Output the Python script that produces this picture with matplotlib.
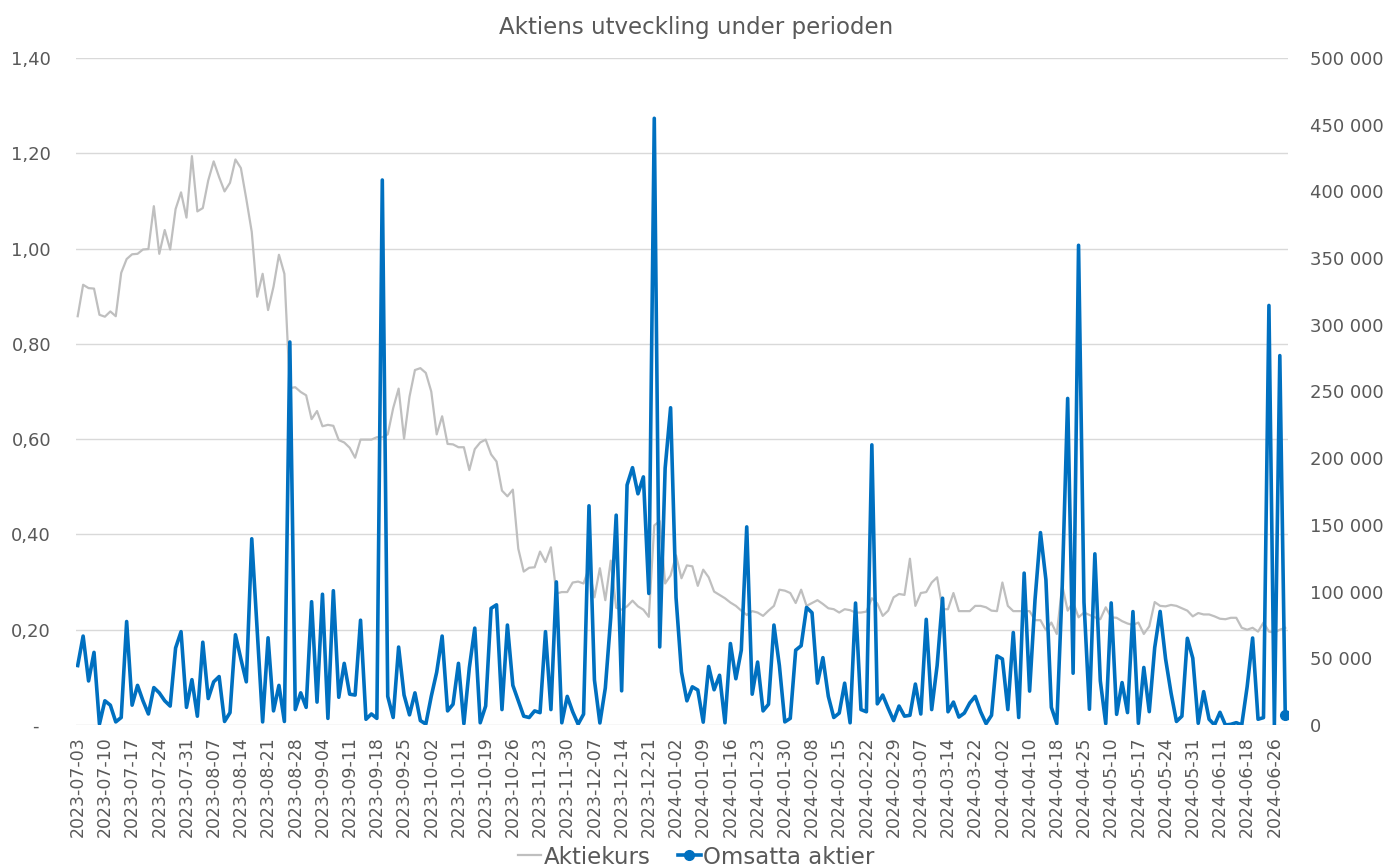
import matplotlib.pyplot as plt
from matplotlib.ticker import FuncFormatter, MultipleLocator
from matplotlib.lines import Line2D

# Aktiekurs (SEK), en punkt per handelsdag
aktiekurs = [
    0.858, 0.924, 0.917, 0.916, 0.861, 0.857, 0.868, 0.858, 0.949, 0.978,
    0.988, 0.989, 0.998, 0.999, 1.089, 0.989, 1.039, 0.998, 1.083, 1.118,
    1.065, 1.194, 1.078, 1.085, 1.143, 1.183, 1.150, 1.120, 1.138, 1.187,
    1.169, 1.104, 1.035, 0.899, 0.947, 0.871, 0.920, 0.987, 0.947, 0.707,
    0.709, 0.699, 0.692, 0.642, 0.659, 0.627, 0.630, 0.628, 0.598, 0.593,
    0.582, 0.561, 0.599, 0.599, 0.599, 0.604, 0.604, 0.610, 0.665, 0.706,
    0.601, 0.689, 0.745, 0.749, 0.739, 0.700, 0.610, 0.648, 0.590, 0.589,
    0.583, 0.583, 0.535, 0.579, 0.593, 0.599, 0.568, 0.553, 0.492, 0.480,
    0.494, 0.370, 0.322, 0.330, 0.331, 0.364, 0.342, 0.373, 0.276, 0.279,
    0.279, 0.299, 0.301, 0.297, 0.330, 0.268, 0.329, 0.262, 0.345, 0.246,
    0.242, 0.249, 0.261, 0.249, 0.242, 0.227, 0.419, 0.428, 0.297, 0.314,
    0.356, 0.308, 0.335, 0.333, 0.292, 0.326, 0.310, 0.280, 0.273, 0.266,
    0.257, 0.250, 0.240, 0.231, 0.239, 0.236, 0.229, 0.240, 0.250, 0.284,
    0.282, 0.277, 0.256, 0.284, 0.250, 0.256, 0.262, 0.254, 0.245, 0.243,
    0.236, 0.243, 0.241, 0.236, 0.236, 0.238, 0.266, 0.255, 0.229, 0.240,
    0.268, 0.275, 0.273, 0.349, 0.250, 0.277, 0.279, 0.299, 0.310, 0.243,
    0.243, 0.277, 0.239, 0.239, 0.239, 0.250, 0.250, 0.247, 0.240, 0.239,
    0.299, 0.250, 0.239, 0.239, 0.239, 0.239, 0.220, 0.220, 0.199, 0.215,
    0.191, 0.293, 0.240, 0.258, 0.226, 0.236, 0.231, 0.226, 0.222, 0.247,
    0.226, 0.225, 0.218, 0.213, 0.210, 0.215, 0.191, 0.207, 0.258, 0.250,
    0.249, 0.252, 0.250, 0.245, 0.240, 0.228, 0.235, 0.232, 0.232, 0.228,
    0.223, 0.222, 0.225, 0.225, 0.204, 0.200, 0.204, 0.196, 0.215, 0.196,
    0.194, 0.200, 0.204,
]

# Omsatta aktier (antal), samma dagar
omsatta = [
    44550, 66660, 33000, 54450, 660, 18150, 14850, 2310, 5610, 77550,
    14850, 29700, 18150, 8250, 28050, 24090, 18150, 14190, 57750, 69960,
    13200, 33990, 6600, 62040, 19800, 32340, 36300, 2640, 9240, 67650,
    49500, 32340, 139590, 70950, 2310, 65340, 10560, 29700, 2640, 287100,
    11550, 24090, 13200, 92400, 17160, 98010, 4950, 100650, 20790, 46200,
    23100, 22440, 78540, 4290, 8250, 4950, 408540, 21450, 5610, 58410,
    22440, 7590, 24090, 3300, 660, 21450, 39600, 66660, 10560, 15510,
    46200, 990, 42900, 72600, 1650, 14190, 87450, 90090, 11550, 74910,
    29700, 18150, 6600, 5610, 10560, 9240, 69960, 11550, 107250, 1650,
    21450, 9900, 600, 8100, 164300, 33750, 1500, 27700, 80500, 157300,
    25600, 179900, 192900, 173300, 186000, 98600, 454800, 58500, 192600, 237800,
    95500, 39800, 18100, 28600, 26200, 2100, 43890, 26400, 37290, 1650,
    61050, 34650, 56100, 148500, 23100, 47190, 10560, 15510, 74910, 44550,
    2310, 4950, 56100, 59400, 88110, 84150, 31350, 50490, 21450, 5610,
    8910, 31350, 1650, 91410, 11550, 9900, 210000, 15840, 22440, 12540,
    3300, 14190, 6600, 7260, 30690, 8250, 79200, 11550, 44550, 95040,
    9900, 17160, 5940, 8910, 16500, 21450, 9900, 990, 7260, 51810,
    49500, 11550, 69300, 5610, 113850, 25410, 94050, 144210, 108900, 13200,
    1000, 104000, 244800, 38800, 359600, 92000, 11800, 128300, 33100, 1000,
    91500, 8000, 31800, 9300, 85000, 1250, 43100, 10000, 58000, 85140,
    49500, 24090, 2640, 6600, 65010, 50100, 1250, 25000, 4300, 0,
    9500, 0, 500, 1750, 0, 28800, 65200, 4300, 5500, 314500,
    0, 276900, 7500,
]

# datumetiketter, var femte handelsdag
tick_labels = [
    "2023-07-03", "2023-07-10", "2023-07-17", "2023-07-24", "2023-07-31",
    "2023-08-07", "2023-08-14", "2023-08-21", "2023-08-28", "2023-09-04",
    "2023-09-11", "2023-09-18", "2023-09-25", "2023-10-02", "2023-10-11",
    "2023-10-19", "2023-10-26", "2023-11-23", "2023-11-30", "2023-12-07",
    "2023-12-14", "2023-12-21", "2024-01-02", "2024-01-09", "2024-01-16",
    "2024-01-23", "2024-01-30", "2024-02-08", "2024-02-15", "2024-02-22",
    "2024-02-29", "2024-03-07", "2024-03-14", "2024-03-22", "2024-04-02",
    "2024-04-10", "2024-04-18", "2024-04-25", "2024-05-10", "2024-05-17",
    "2024-05-24", "2024-05-31", "2024-06-11", "2024-06-18", "2024-06-26",
]

gray = "#BFBFBF"
blue = "#0070C0"
text_col = "#595959"

n = len(aktiekurs)
x = list(range(n))

fig = plt.figure(figsize=(13.93, 8.67), dpi=100)
ax = fig.add_axes([0.0546, 0.1638, 0.8700, 0.7693])
ax2 = ax.twinx()

ax.plot(x, aktiekurs, color=gray, lw=1.6, zorder=2)
ax2.plot(x, omsatta, color=blue, lw=2.6, marker="o", markersize=7,
         markevery=[n - 1], zorder=3)

ax.set_xlim(-0.3, n - 0.5)
ax.set_ylim(0, 1.4)
ax2.set_ylim(0, 500000)

ax.yaxis.set_major_locator(MultipleLocator(0.2))
ax2.yaxis.set_major_locator(MultipleLocator(50000))
ax.yaxis.set_major_formatter(FuncFormatter(
    lambda v, p: "-  " if abs(v) < 1e-9 else f"{v:.2f}".replace(".", ",")))
ax2.yaxis.set_major_formatter(FuncFormatter(
    lambda v, p: f"{int(round(v)):,}".replace(",", " ")))

ax.set_xticks(range(0, n, 5))
ax.set_xticklabels(tick_labels, rotation=90)

ax.grid(axis="y", color="#D9D9D9", lw=1)
ax.set_axisbelow(True)
for a in (ax, ax2):
    for s in a.spines.values():
        s.set_visible(False)
    a.tick_params(length=0, colors=text_col, labelsize=13)
ax.tick_params(axis="x", labelsize=12.5, pad=8)
ax.tick_params(axis="y", pad=18)
ax2.tick_params(axis="y", pad=16)

fig.suptitle("Aktiens utveckling under perioden", x=0.50, y=0.982,
             fontsize=16.5, color=text_col)

handles = [
    Line2D([], [], color=gray, lw=1.6),
    Line2D([], [], color=blue, lw=2.6, marker="o", markersize=7),
]
fig.legend(handles, ["Aktiekurs", "Omsatta aktier"], loc="center",
           bbox_to_anchor=(0.5, 1 - 857 / 867), ncol=2, frameon=False,
           fontsize=16.5, handlelength=1.0, handletextpad=0.1,
           columnspacing=1.2, labelcolor=text_col)

fig.savefig("out.png", dpi=100)
